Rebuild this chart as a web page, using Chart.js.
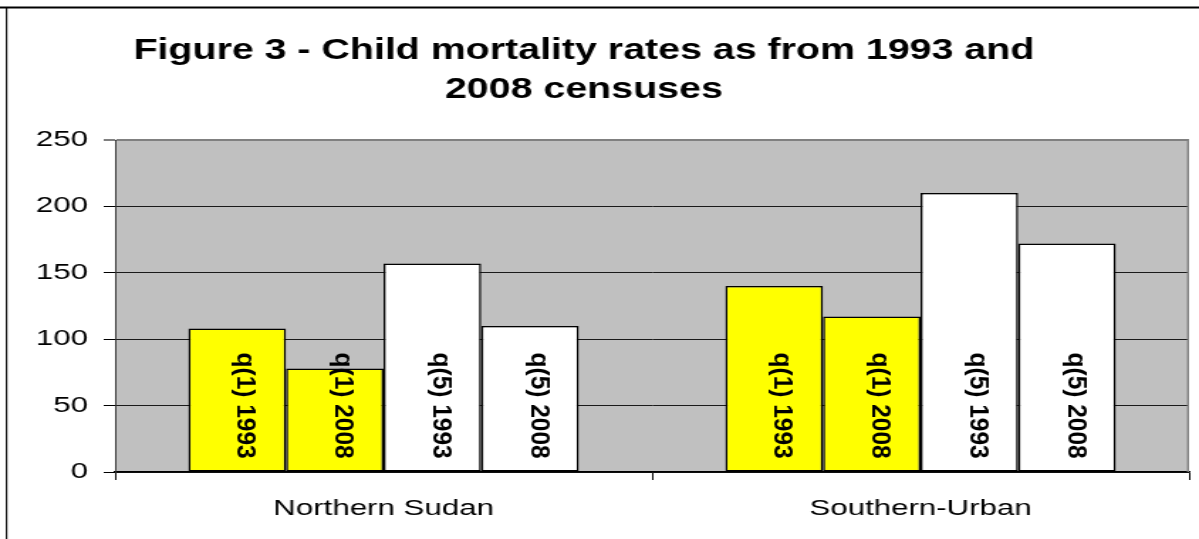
<!DOCTYPE html>
<html>
<head>
<meta charset="utf-8">
<title>Child mortality rates</title>
<script src="https://cdn.jsdelivr.net/npm/chart.js@4/dist/chart.umd.min.js"></script>
<style>
  html, body { margin: 0; padding: 0; background: #ffffff; }
  #chart { display: block; }
</style>
</head>
<body>
<!-- the drawing is made narrow and widened by css, like the old exported figure -->
<canvas id="chart" width="844" height="539" style="width:1199px;height:539px"></canvas>
<script>
// Dati del grafico
const categories = ['Northern Sudan', 'Southern-Urban'];
const seriesNames = ['q(1) 1993', 'q(1) 2008', 'q(5) 1993', 'q(5) 2008'];
const q1_1993 = [108, 140];
const q1_2008 = [78, 117];
const q5_1993 = [157, 210];
const q5_2008 = [110, 172];
const yTicks = [0, 50, 100, 150, 200, 250];

const titleLines = ['Figure 3 - Child mortality rates as from 1993 and', '2008 censuses'];

const seriesColors = ['#ffff00', '#ffff00', '#ffffff', '#ffffff'];
const ARIAL = 'Arial, "Liberation Sans", sans-serif';

Chart.defaults.font.family = ARIAL;
Chart.defaults.color = '#000000';

// Sfondo grigio dell'area del grafico e bordo destro
const plotBackground = {
    id: 'plotBackground',
    beforeDraw(chart) {
        const { ctx, chartArea: a } = chart;
        ctx.save();
        ctx.fillStyle = '#c0c0c0';
        ctx.fillRect(a.left, a.top, a.right - a.left, a.bottom - a.top);
        ctx.restore();
    },
    beforeDatasetsDraw(chart) {
        const { ctx, chartArea: a } = chart;
        ctx.save();
        ctx.strokeStyle = '#808080';
        ctx.lineWidth = 1.4;
        ctx.beginPath();
        ctx.moveTo(a.right - 0.7, a.top);
        ctx.lineTo(a.right - 0.7, a.bottom);
        ctx.stroke();
        ctx.restore();
    }
};

// Titolo su due righe e cornice esterna
const figureTitle = {
    id: 'figureTitle',
    afterDraw(chart) {
        const ctx = chart.ctx;
        ctx.save();
        // cornice (solo lati sinistro e superiore visibili)
        ctx.strokeStyle = '#000000';
        ctx.lineWidth = 2;
        ctx.beginPath();
        ctx.moveTo(0, 7.5);
        ctx.lineTo(chart.width, 7.5);
        ctx.stroke();
        ctx.lineWidth = 1.1;
        ctx.beginPath();
        ctx.moveTo(4.6, 7.5);
        ctx.lineTo(4.6, chart.height);
        ctx.stroke();

        ctx.font = 'bold 29px ' + ARIAL;
        ctx.fillStyle = '#000000';
        ctx.textAlign = 'center';
        ctx.textBaseline = 'alphabetic';
        const baselines = [59, 98];
        titleLines.forEach((line, i) => {
            ctx.save();
            ctx.translate(411, baselines[i]);
            ctx.scale(0.955, 1);
            ctx.fillText(line, 0, 0);
            ctx.restore();
        });
        ctx.restore();
    }
};

// Etichette verticali dentro le barre
const LABEL_CENTER_VALUE = 50;
const barLabels = {
    id: 'barLabels',
    afterDatasetsDraw(chart) {
        const ctx = chart.ctx;
        const yScale = chart.scales.y;
        const cy = yScale.getPixelForValue(LABEL_CENTER_VALUE);
        ctx.save();
        ctx.font = 'bold 18px ' + ARIAL;
        ctx.fillStyle = '#000000';
        ctx.textAlign = 'center';
        ctx.textBaseline = 'middle';
        chart.data.datasets.forEach((ds, di) => {
            chart.getDatasetMeta(di).data.forEach(bar => {
                ctx.save();
                ctx.translate(bar.x + 5.5, cy);
                ctx.rotate(Math.PI / 2);
                ctx.scale(1.36, 1);
                ctx.fillText(ds.label, 0, 0);
                ctx.restore();
            });
        });
        ctx.restore();
    }
};

const seriesValues = [q1_1993, q1_2008, q5_1993, q5_2008];

new Chart(document.getElementById('chart'), {
    type: 'bar',
    data: {
        labels: categories,
        datasets: seriesNames.map((name, i) => ({
            label: name,
            data: seriesValues[i],
            backgroundColor: seriesColors[i],
            borderColor: '#000000',
            borderWidth: 1.5,
            borderSkipped: false,
            categoryPercentage: 0.727,
            barPercentage: 1.0
        }))
    },
    options: {
        responsive: false,
        devicePixelRatio: 1,
        animation: false,
        layout: { padding: { left: 25, top: 140, right: 7, bottom: 17 } },
        plugins: {
            legend: { display: false },
            title: { display: false },
            tooltip: { enabled: false }
        },
        scales: {
            x: {
                offset: true,
                grid: {
                    offset: true,
                    drawOnChartArea: false,
                    drawTicks: true,
                    tickLength: 8,
                    tickColor: '#000000',
                    tickWidth: 1
                },
                border: { display: true, color: '#000000', width: 1.5 },
                ticks: { font: { size: 22 }, padding: 16, color: '#000000' },
                afterFit(scale) { scale.height = 50; }
            },
            y: {
                min: 0,
                max: 250,
                afterBuildTicks(scale) {
                    scale.ticks = yTicks.map(v => ({ value: v }));
                },
                grid: {
                    color: ctx => ctx.tick && ctx.tick.value === 250 ? '#808080' : '#1a1a1a',
                    lineWidth: ctx => ctx.tick && ctx.tick.value === 250 ? 2 : 1,
                    tickLength: 8,
                    tickColor: '#000000',
                    tickWidth: 1
                },
                border: { display: true, color: '#333333', width: 1 },
                ticks: { font: { size: 22 }, padding: 11, color: '#000000' },
                afterFit(scale) { scale.width = 56; }
            }
        }
    },
    plugins: [plotBackground, barLabels, figureTitle]
});
</script>
</body>
</html>
